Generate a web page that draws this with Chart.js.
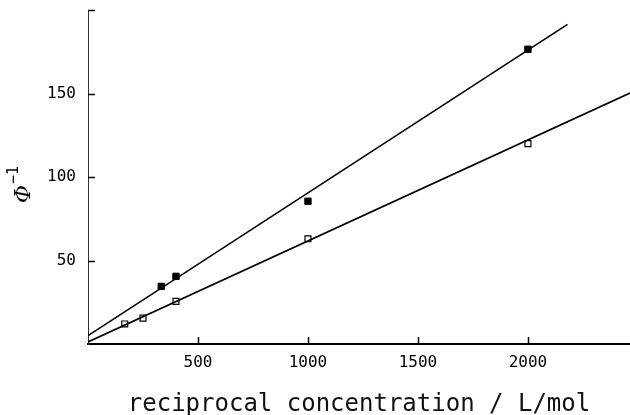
<!DOCTYPE html>
<html>
<head>
<meta charset="utf-8">
<script src="https://cdn.jsdelivr.net/npm/chart.js@4.4.1/dist/chart.umd.min.js"></script>
<style>
  html, body { margin: 0; padding: 0; background: #fff; }
  #wrap { width: 630px; height: 415px; position: relative; }
</style>
</head>
<body>
<div id="wrap"><canvas id="chart"></canvas></div>
<script>
// datos
const filledX = [333, 400, 1000, 2000];
const filledY = [34.5, 40.5, 85.5, 176.5];
const openX = [167, 250, 400, 1000, 2000];
const openY = [12, 15.5, 25.5, 63, 120];

// rectas de ajuste (extremos)
const filledFitX = [0, 2180];
const filledFitY = [5, 191.4];
const openFitX = [0, 2464];
const openFitY = [1.2, 150.3];

const xTicks = [500, 1000, 1500, 2000];
const yTicks = [50, 100, 150, 200];
const yLabels = ["50", "100", "150", ""];

const toPoints = (xs, ys) => xs.map((x, i) => ({ x: x, y: ys[i] }));

const mono = "'DejaVu Sans Mono', 'Liberation Mono', monospace";

// marcas de los ejes hacia dentro
const innerTicks = {
  id: "innerTicks",
  afterDraw(chart) {
    const ctx = chart.ctx;
    const xs = chart.scales.x;
    const ys = chart.scales.y;
    ctx.save();
    ctx.strokeStyle = "#000";
    ctx.lineWidth = 1.5;
    xTicks.forEach((v) => {
      const px = Math.round(xs.getPixelForValue(v)) + 0.5;
      ctx.beginPath();
      ctx.moveTo(px, ys.bottom);
      ctx.lineTo(px, ys.bottom - 7);
      ctx.stroke();
    });
    yTicks.forEach((v) => {
      const py = Math.round(ys.getPixelForValue(v)) + 0.5;
      ctx.beginPath();
      ctx.moveTo(xs.left, py);
      ctx.lineTo(xs.left + 7, py);
      ctx.stroke();
    });
    ctx.restore();
  },
};

// título del eje y: Φ^-1
const yTitle = {
  id: "yTitle",
  afterDraw(chart) {
    const ctx = chart.ctx;
    ctx.save();
    ctx.translate(24, 194);
    ctx.rotate(-Math.PI / 2);
    ctx.fillStyle = "#000";
    ctx.textBaseline = "middle";
    ctx.textAlign = "left";
    ctx.font = "italic 22px 'DejaVu Serif', serif";
    ctx.fillText("Φ", -9, 0);
    ctx.font = "15px " + mono;
    ctx.fillText("−1", 10, -10);
    ctx.restore();
  },
};

const ctx = document.getElementById("chart").getContext("2d");

new Chart(ctx, {
  type: "scatter",
  data: {
    datasets: [
      {
        label: "fit filled",
        type: "line",
        data: toPoints(filledFitX, filledFitY),
        borderColor: "#000",
        borderWidth: 1.6,
        pointRadius: 0,
        fill: false,
      },
      {
        label: "fit open",
        type: "line",
        data: toPoints(openFitX, openFitY),
        borderColor: "#000",
        borderWidth: 1.6,
        pointRadius: 0,
        fill: false,
      },
      {
        label: "filled",
        data: toPoints(filledX, filledY),
        pointStyle: "rect",
        pointRadius: 4.5,
        backgroundColor: "#000",
        borderColor: "#000",
        borderWidth: 1,
      },
      {
        label: "open",
        data: toPoints(openX, openY),
        pointStyle: "rect",
        pointRadius: 4.2,
        backgroundColor: "#fff",
        borderColor: "#000",
        borderWidth: 1.2,
      },
    ],
  },
  options: {
    responsive: true,
    maintainAspectRatio: false,
    animation: false,
    layout: {
      autoPadding: false,
      padding: { top: 10, right: 0, left: 0, bottom: 0 },
    },
    plugins: {
      legend: { display: false },
      tooltip: { enabled: false },
    },
    scales: {
      x: {
        type: "linear",
        min: 0,
        max: 2464,
        afterFit: (s) => {
          s.height = 71;
          s.paddingLeft = 0;
          s.paddingRight = 0;
        },
        afterBuildTicks: (s) => { s.ticks = xTicks.map((v) => ({ value: v })); },
        border: { display: true, color: "#000", width: 2 },
        grid: { display: false, drawTicks: false },
        ticks: {
          color: "#000",
          font: { family: mono, size: 16 },
          padding: 9,
          maxRotation: 0,
          callback: (v) => String(v),
        },
        title: {
          display: true,
          text: "reciprocal concentration / L/mol",
          color: "#111",
          font: { family: mono, size: 24 },
          padding: { top: 0, bottom: -4 },
        },
      },
      y: {
        type: "linear",
        min: 0,
        max: 200,
        afterFit: (s) => {
          s.width = 88;
          s.paddingTop = 0;
          s.paddingBottom = 0;
        },
        afterBuildTicks: (s) => { s.ticks = yTicks.map((v) => ({ value: v })); },
        border: { display: true, color: "#333", width: 1 },
        grid: { display: false, drawTicks: false },
        ticks: {
          color: "#000",
          font: { family: mono, size: 16 },
          padding: 12,
          callback: (v, i) => yLabels[i],
        },
      },
    },
  },
  plugins: [innerTicks, yTitle],
});
</script>
</body>
</html>
